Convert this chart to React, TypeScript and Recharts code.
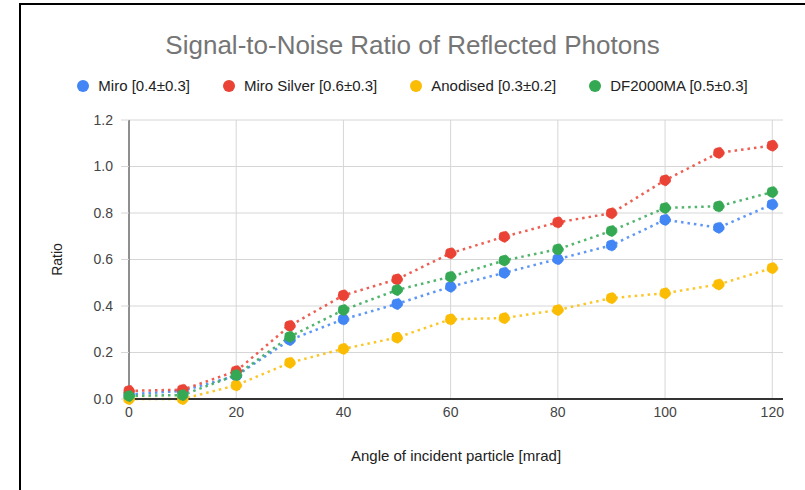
import React from "react";
import { LineChart, Line, XAxis, YAxis, ReferenceLine } from "recharts";

const ANGLES = [0, 10, 20, 30, 40, 50, 60, 70, 80, 90, 100, 110, 120];
const MIRO = [0.02, 0.035, 0.1, 0.254, 0.343, 0.409, 0.483, 0.543, 0.602, 0.661, 0.771, 0.737, 0.837];
const MIRO_SILVER = [0.035, 0.04, 0.12, 0.315, 0.446, 0.515, 0.627, 0.698, 0.76, 0.799, 0.941, 1.059, 1.09];
const ANODISED = [0.0, 0.0, 0.059, 0.156, 0.216, 0.264, 0.343, 0.348, 0.383, 0.434, 0.455, 0.493, 0.563];
const DF2000MA = [0.013, 0.017, 0.103, 0.268, 0.383, 0.469, 0.526, 0.596, 0.644, 0.723, 0.822, 0.829, 0.89];

const X_TICKS = [0, 20, 40, 60, 80, 100, 120];
const Y_TICKS = [0, 0.2, 0.4, 0.6, 0.8, 1.0, 1.2];

const SERIES = [
  { key: "miro", name: "Miro [0.4±0.3]", color: "#4285F4", values: MIRO },
  { key: "silver", name: "Miro Silver [0.6±0.3]", color: "#EA4335", values: MIRO_SILVER },
  { key: "anodised", name: "Anodised [0.3±0.2]", color: "#FBBC04", values: ANODISED },
  { key: "df", name: "DF2000MA [0.5±0.3]", color: "#34A853", values: DF2000MA },
];

const data = ANGLES.map((angle, i) => {
  const row: Record<string, number> = { angle };
  SERIES.forEach((s) => {
    row[s.key] = s.values[i];
  });
  return row;
});

const FONT = "'Liberation Sans', Arial, sans-serif";
const GRID = "#d6d6d6";

function LegendRow() {
  return (
    <div style={{ display: "flex", justifyContent: "center", gap: 33, fontFamily: FONT, fontSize: 15, color: "#222" }}>
      {SERIES.map((s) => (
        <div key={s.key} style={{ display: "flex", alignItems: "center" }}>
          <span
            style={{ width: 12, height: 12, borderRadius: "50%", background: s.color, display: "inline-block", marginRight: 9 }}
          />
          <span>{s.name}</span>
        </div>
      ))}
    </div>
  );
}

export default function App() {
  return (
    <div style={{ position: "absolute", left: 0, top: 0, width: 805, height: 490, background: "#fff", overflow: "hidden" }}>
      <div style={{ position: "absolute", left: 19, top: 3, width: 2, height: 487, background: "#000" }} />
      <div style={{ position: "absolute", left: 19, top: 3, width: 786, height: 2, background: "#000" }} />
      <div
        style={{
          position: "absolute",
          left: 20,
          width: 785,
          top: 30,
          textAlign: "center",
          fontFamily: FONT,
          fontSize: 26,
          color: "#757575",
        }}
      >
        Signal-to-Noise Ratio of Reflected Photons
      </div>
      <div style={{ position: "absolute", left: 20, width: 785, top: 77 }}>
        <LegendRow />
      </div>
      <div style={{ position: "absolute", left: 0, top: 0 }}>
        <LineChart width={805} height={490} data={data} margin={{ top: 120, right: 22, bottom: 29, left: 49 }}>
          {Y_TICKS.map((t) => (
            <ReferenceLine key={"y" + t} y={t} stroke={GRID} />
          ))}
          {X_TICKS.map((t) => (
            <ReferenceLine key={"x" + t} x={t} stroke={GRID} />
          ))}
          <XAxis
            dataKey="angle"
            type="number"
            domain={[0, 122]}
            ticks={X_TICKS}
            height={62}
            tick={{ fontSize: 14, fill: "#444", fontFamily: FONT }}
            axisLine={{ stroke: "#333", strokeWidth: 2 }}
            tickLine={false}
            label={{ value: "Angle of incident particle [mrad]", position: "insideBottom", offset: 0, fill: "#222", fontSize: 15, fontFamily: FONT }}
          />
          <YAxis
            type="number"
            domain={[0, 1.2]}
            ticks={Y_TICKS}
            width={80}
            tickFormatter={(v: number) => v.toFixed(1)}
            tick={{ fontSize: 14, fill: "#444", fontFamily: FONT }}
            axisLine={{ stroke: "#333" }}
            tickLine={{ stroke: GRID }}
            tickSize={8}
            tickMargin={8}
            label={{ value: "Ratio", angle: -90, position: "insideLeft", offset: 8, style: { textAnchor: "middle" }, fill: "#222", fontSize: 14, fontFamily: FONT }}
          />
          {SERIES.map((s) => (
            <Line
              key={s.key}
              dataKey={s.key}
              name={s.name}
              type="linear"
              stroke={s.color}
              strokeOpacity={0.85}
              strokeWidth={2.5}
              strokeDasharray="2.5 4"
              dot={{ r: 5.5, fill: s.color, stroke: s.color, strokeWidth: 1 }}
              activeDot={false}
              isAnimationActive={false}
            />
          ))}
        </LineChart>
      </div>
    </div>
  );
}
